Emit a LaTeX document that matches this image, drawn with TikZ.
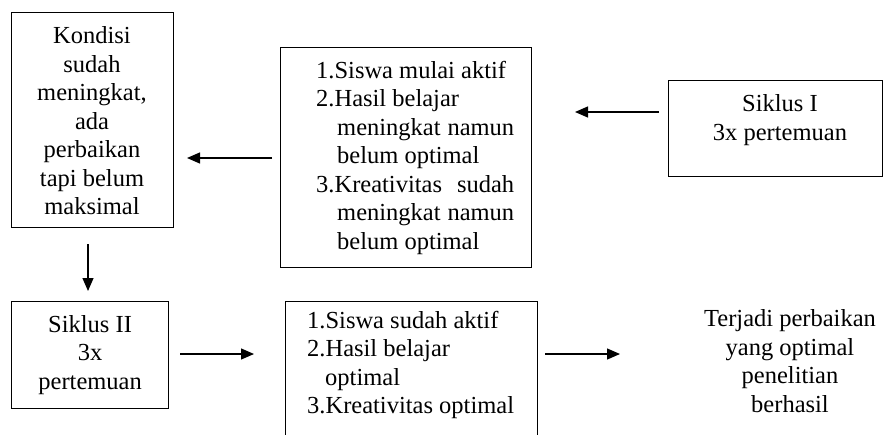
\documentclass[tikz,border=0pt]{standalone}
\usepackage{fontspec}
\setmainfont{Liberation Serif}
\usetikzlibrary{arrows.meta}
\tikzset{
  boxnode/.style={draw, line width=1.2pt, inner sep=0pt},
  txt/.style={inner sep=0pt, font=\fontsize{24.5}{28.5}\selectfont},
  arr/.style={line width=1.2pt, -{Triangle[length=13pt,width=11pt]}}
}
\begin{document}
\begin{tikzpicture}[x=1pt,y=-1pt]
\path[use as bounding box] (0,0) rectangle (883,434);
\clip (0,0) rectangle (883,434);
% boxes
\node[boxnode, minimum width=162pt, minimum height=215pt, anchor=north west] (a) at (11,12) {};
\node[txt, align=center, anchor=center] (at) at (92,121) {Kondisi\\sudah\\meningkat,\\ada\\perbaikan\\tapi belum\\maksimal};
\node[boxnode, minimum width=251pt, minimum height=220pt, anchor=north west] (b) at (280,47) {};
\node[txt, align=left, anchor=north west] (bt) at (316,61) {1.Siswa mulai aktif\\
2.Hasil belajar\\
\hspace*{21pt}\makebox[177pt][l]{meningkat\hfill namun}\\
\hspace*{21pt}belum optimal\\
\makebox[198pt][l]{3.Kreativitas\hfill sudah}\\
\hspace*{21pt}\makebox[177pt][l]{meningkat\hfill namun}\\
\hspace*{21pt}belum optimal};
\node[boxnode, minimum width=214pt, minimum height=96pt, anchor=north west] (c) at (668,80) {};
\node[txt, align=center] (ct) at (780,120) {Siklus I\\3x pertemuan};
\node[boxnode, minimum width=157pt, minimum height=107pt, anchor=north west, txt, align=center] (d) at (11,301) {Siklus II\\3x\\pertemuan};
\node[boxnode, minimum width=252pt, minimum height=150pt, anchor=north west] (e) at (285,301) {};
\node[txt, align=left, anchor=north west] (et) at (307,311) {1.Siswa sudah aktif\\
2.Hasil belajar\\
\hspace*{18pt}optimal\\
3.Kreativitas optimal};
\node[txt, align=center] (f) at (790,361) {Terjadi perbaikan\\yang optimal\\penelitian\\berhasil};
% arrow ends
\coordinate (c1) at (659,112);
\coordinate (b1) at (575,112);
\coordinate (b2) at (272,158);
\coordinate (a1) at (187,158);
\coordinate (a2) at (88,244);
\coordinate (d1) at (88,291);
\coordinate (d2) at (180,354);
\coordinate (e1) at (254,354);
\coordinate (e2) at (545,354);
\coordinate (f1) at (620,354);
\draw[arr] (c1) -- (b1);
\draw[arr] (b2) -- (a1);
\draw[arr] (a2) -- (d1);
\draw[arr] (d2) -- (e1);
\draw[arr] (e2) -- (f1);
\end{tikzpicture}
\end{document}
